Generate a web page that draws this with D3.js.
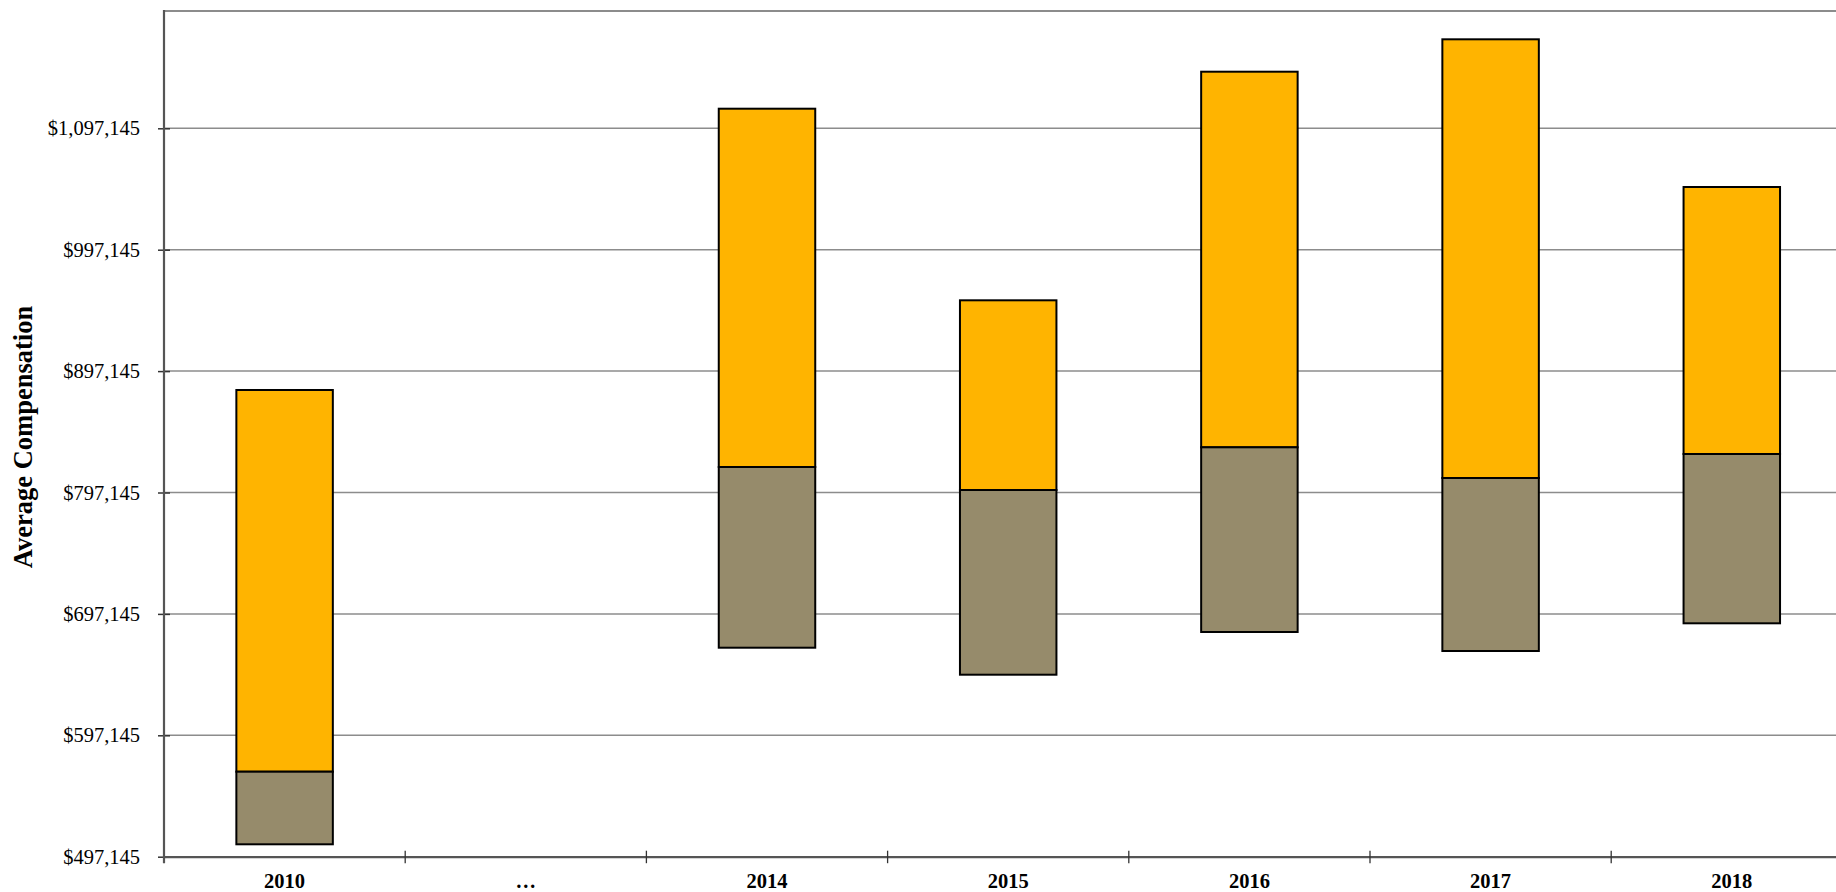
<!DOCTYPE html>
<html><head><meta charset="utf-8">
<script src="https://cdn.jsdelivr.net/npm/d3@7"></script>
<style>body{margin:0;background:#fff;overflow:hidden}</style>
</head><body><svg id="c" width="1836" height="892"></svg>
<script>
const categories = ["2010", "…", "2014", "2015", "2016", "2017", "2018"];
const lowValues  = [507360, null, 669300, 647060, 682240, 666580, 689400];
const midValues  = [567160, null, 818150, 799200, 834370, 809090, 828860];
const highValues = [881580, null, 1113290, 955460, 1143770, 1170450, 1048790];
const yTickValues = [497145, 597145, 697145, 797145, 897145, 997145, 1097145];
const yMin = 497145, yMax = 1193770;
const yTitle = "Average Compensation";

const svg = d3.select("#c");
const mLeft = 164, mTop = 11, mBottom = 856.7, step = 241.2;
const mRight = mLeft + step * categories.length;
const FONT = "'Liberation Serif','Times New Roman',serif";

const x = d3.scaleBand().domain(categories).range([mLeft, mRight]).padding(0);
const y = d3.scaleLinear().domain([yMin, yMax]).range([mBottom, mTop]);

// gridlines
svg.append("g").selectAll("line").data(yTickValues.slice(1)).join("line")
  .attr("x1", mLeft).attr("x2", mRight)
  .attr("y1", d => y(d)).attr("y2", d => y(d))
  .attr("stroke", "#8c8c8c").attr("stroke-width", 1.5);

// top frame
svg.append("line").attr("x1", mLeft).attr("x2", mRight).attr("y1", mTop).attr("y2", mTop)
  .attr("stroke", "#8c8c8c").attr("stroke-width", 2);

// bars
const data = categories.map((c, i) => ({c, low: lowValues[i], mid: midValues[i], high: highValues[i]}))
  .filter(d => d.low != null);
const bw = x.bandwidth() * 0.4;
const bx = d => x(d.c) + (x.bandwidth() - bw) / 2;
svg.append("g").selectAll("rect").data(data).join("rect")
  .attr("x", bx).attr("width", bw)
  .attr("y", d => y(d.high)).attr("height", d => y(d.mid) - y(d.high))
  .attr("fill", "#FFB400").attr("stroke", "#000").attr("stroke-width", 2);
svg.append("g").selectAll("rect").data(data).join("rect")
  .attr("x", bx).attr("width", bw)
  .attr("y", d => y(d.mid)).attr("height", d => y(d.low) - y(d.mid))
  .attr("fill", "#968B6B").attr("stroke", "#000").attr("stroke-width", 2);

// y axis
const yAxis = svg.append("g").attr("transform", `translate(${mLeft},0)`)
  .call(d3.axisLeft(y).tickValues(yTickValues).tickFormat(d3.format("$,")).tickSizeInner(6).tickSizeOuter(0).tickPadding(18));
yAxis.select(".domain").remove();
yAxis.selectAll(".tick line").attr("x1", -6).attr("x2", 6).attr("stroke", "#333").attr("stroke-width", 1.5);
yAxis.selectAll(".tick text").attr("font-family", FONT).attr("font-size", 20.5).attr("fill", "#000");
svg.append("line").attr("x1", mLeft).attr("x2", mLeft).attr("y1", mTop - 1).attr("y2", mBottom + 6.5)
  .attr("stroke", "#555").attr("stroke-width", 2.2);

// x axis
const xAxis = svg.append("g").attr("transform", `translate(0,${mBottom})`)
  .call(d3.axisBottom(x).tickSize(0).tickPadding(17));
xAxis.select(".domain").attr("stroke", "#555").attr("stroke-width", 2.2);
xAxis.selectAll(".tick text").attr("font-family", FONT).attr("font-size", 20.5).attr("font-weight", "bold").attr("fill", "#000");
svg.append("g").selectAll("line").data(categories.slice(1)).join("line")
  .attr("x1", d => x(d)).attr("x2", d => x(d))
  .attr("y1", mBottom - 6).attr("y2", mBottom + 6.5)
  .attr("stroke", "#333").attr("stroke-width", 1.3);

// y title
svg.append("text").attr("transform", "translate(32,437) rotate(-90)")
  .attr("text-anchor", "middle").attr("font-family", FONT).attr("font-size", 26.5)
  .attr("font-weight", "bold").attr("fill", "#000").text(yTitle);
</script></body></html>
